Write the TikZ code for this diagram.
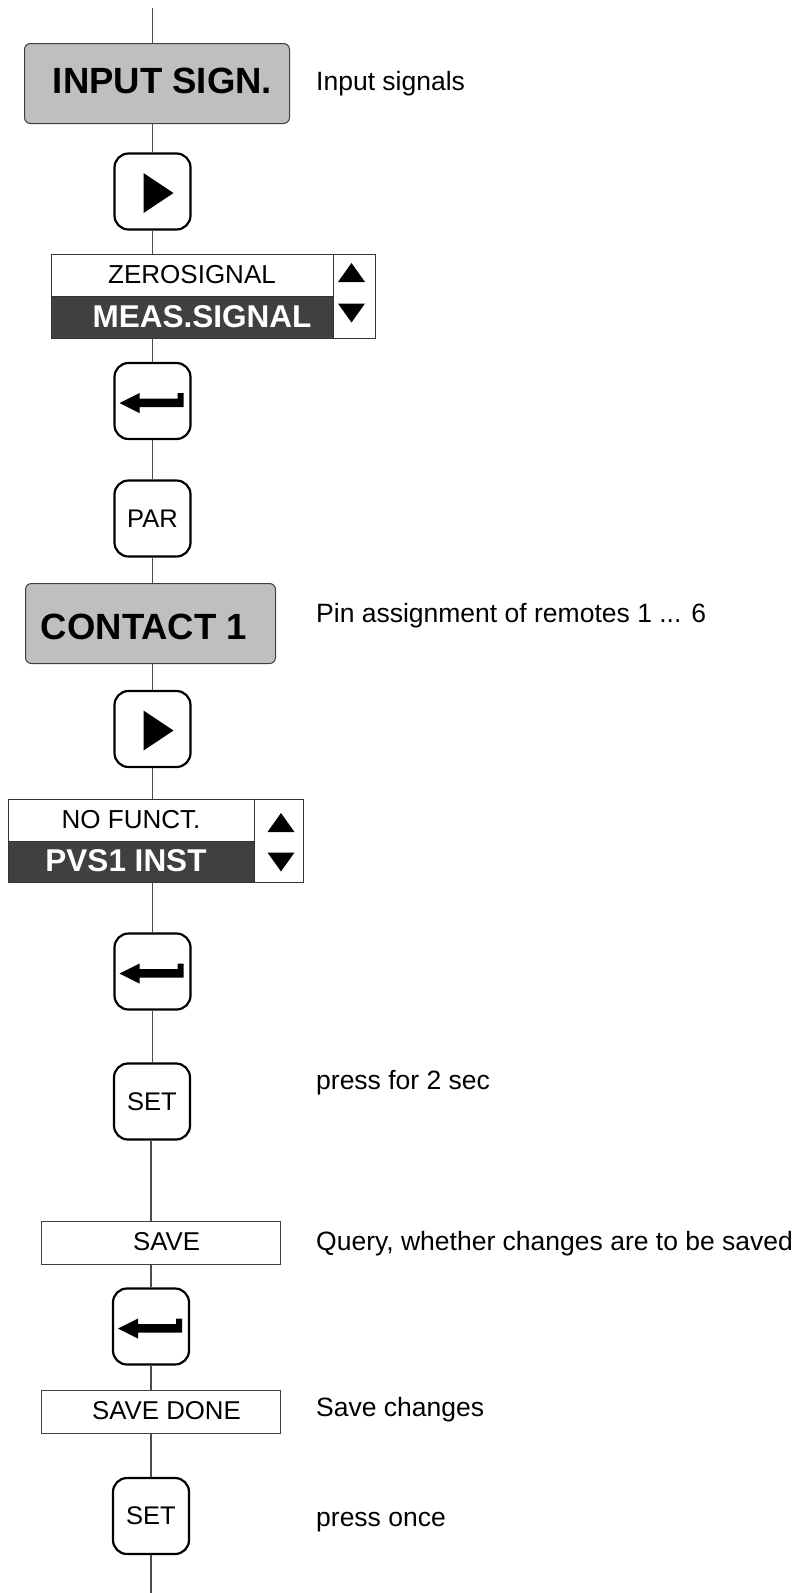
\documentclass[tikz,border=0pt]{standalone}
\usepackage{fontspec}
\setmainfont{Liberation Sans}
\begin{document}
\begin{tikzpicture}[x=1pt,y=-1pt,
  conn/.style={draw=black!70, line width=1.1pt},
  btn/.style={draw=black, line width=2.2pt, rounded corners=14pt, minimum width=76pt, minimum height=76pt, inner sep=0pt, fill=white, font=\fontsize{25.5}{28}\selectfont},
  menubox/.style={draw=black!75, line width=1pt, fill=black!25, rounded corners=6pt, inner sep=0pt},
  hdr/.style={anchor=base, inner sep=0pt, font=\bfseries\fontsize{36.5}{40}\selectfont},
  side/.style={anchor=base west, inner sep=0pt, font=\fontsize{26.5}{30}\selectfont},
  cell/.style={draw=black!80, line width=1pt, inner sep=0pt, fill=white, font=\fontsize{26}{28}\selectfont},
  darkcell/.style={cell, fill=black!75},
  dtxtb/.style={inner sep=0pt, text=white, font=\bfseries\fontsize{31.5}{34}\selectfont},
  plainbox/.style={draw=black!75, line width=1pt, inner sep=0pt, fill=white, minimum width=239pt, minimum height=43pt},
  smalltxt/.style={anchor=base, inner sep=0pt, font=\fontsize{25.8}{28}\selectfont},
  uptri/.pic={\fill (-13.5,9.5) -- (13.5,9.5) -- (0,-9.5) -- cycle;},
  dntri/.pic={\fill (-13.5,-9.5) -- (13.5,-9.5) -- (0,9.5) -- cycle;},
  playtri/.pic={\fill (-9,-18.5) -- (-9,21.5) -- (21,1.5) -- cycle;},
  entersym/.pic={\fill (-33,2) -- (-13,-8) -- (-13,-2.5) -- (25,-2.5) -- (25,-8) -- (31,-8) -- (31,6) -- (-13,6) -- (-13,12) -- cycle;}
]
\useasboundingbox (0,0) rectangle (798,1593);

% INPUT SIGN.
\node[menubox, minimum width=265pt, minimum height=80pt] (ins) at (157,83.5) {};
\node[hdr] (insT) at (162.5,93) {INPUT SIGN.};
\node[side] (s1) at (316,90) {Input signals};

% play 1
\node[btn] (play1) at (152.5,191.5) {};
\pic at (play1) {playtri};

% display 1
\node[cell, minimum width=282pt, minimum height=42pt] (z1) at (192,275) {ZEROSIGNAL};
\node[darkcell, minimum width=282pt, minimum height=42pt] (m1) at (192,317) {};
\node[dtxtb] (m1T) at (202,316.5) {MEAS.SIGNAL};
\node[cell, minimum width=42pt, minimum height=84pt] (a1) at (354,296) {};
\pic at (351.5,272.5) {uptri};
\pic at (351.5,313) {dntri};

% enter 1
\node[btn] (enter1) at (152.5,401) {};
\pic at (enter1) {entersym};

% PAR
\node[btn] (par) at (152.5,518.5) {PAR};

% CONTACT 1
\node[menubox, minimum width=250pt, minimum height=80pt] (con) at (150.5,623.5) {};
\node[hdr] (conT) at (144,639) {CONTACT 1};
\node[side] (s2) at (316,622.7) {Pin assignment of remotes 1 ... 6};

% play 2
\node[btn] (play2) at (152.5,729) {};
\pic at (play2) {playtri};

% display 2
\node[cell, minimum width=246pt, minimum height=42pt] (z2) at (131,820) {NO FUNCT.};
\node[darkcell, minimum width=246pt, minimum height=41pt] (m2) at (131,861.5) {};
\node[dtxtb] (m2T) at (126,861) {PVS1 INST};
\node[cell, minimum width=49pt, minimum height=83pt] (a2) at (278.5,840.5) {};
\pic at (281,822.5) {uptri};
\pic at (281,862) {dntri};

% enter 2
\node[btn] (enter2) at (152.5,971.5) {};
\pic at (enter2) {entersym};

% SET 1
\node[btn] (set1) at (152,1101.5) {SET};
\node[side] (s3) at (316,1089) {press for 2 sec};

% SAVE
\node[plainbox] (save) at (160.5,1242.5) {};
\node[smalltxt] (saveT) at (166.5,1250) {SAVE};
\node[side] (s4) at (316,1250) {Query, whether changes are to be saved};

% enter 3
\node[btn] (enter3) at (151,1326.5) {};
\pic at (enter3) {entersym};

% SAVE DONE
\node[plainbox] (sd) at (160.5,1411.5) {};
\node[smalltxt] (sdT) at (166.5,1419.3) {SAVE DONE};
\node[side] (s5) at (316,1416.7) {Save changes};

% SET 2
\node[btn] (set2) at (151,1516) {SET};
\node[side] (s6) at (316,1526.7) {press once};

% connectors
\coordinate (top) at (152.5,8);
\coordinate (bot) at (151,1593);
\draw[conn] (top) -- (top |- ins.north);
\draw[conn] (play1.north |- ins.south) -- (play1.north);
\draw[conn] (play1.south) -- (play1.south |- z1.north);
\draw[conn] (enter1.north |- m1.south) -- (enter1.north);
\draw[conn] (enter1.south) -- (par.north);
\draw[conn] (par.south) -- (par.south |- con.north);
\draw[conn] (play2.north |- con.south) -- (play2.north);
\draw[conn] (play2.south) -- (play2.south |- z2.north);
\draw[conn] (enter2.north |- m2.south) -- (enter2.north);
\draw[conn] (enter2.south) -- (enter2.south |- set1.north);
\draw[conn] (bot |- set1.south) -- (bot |- save.north);
\draw[conn] (bot |- save.south) -- (enter3.north);
\draw[conn] (enter3.south) -- (bot |- sd.north);
\draw[conn] (bot |- sd.south) -- (set2.north);
\draw[conn] (set2.south) -- (bot);
\end{tikzpicture}
\end{document}
